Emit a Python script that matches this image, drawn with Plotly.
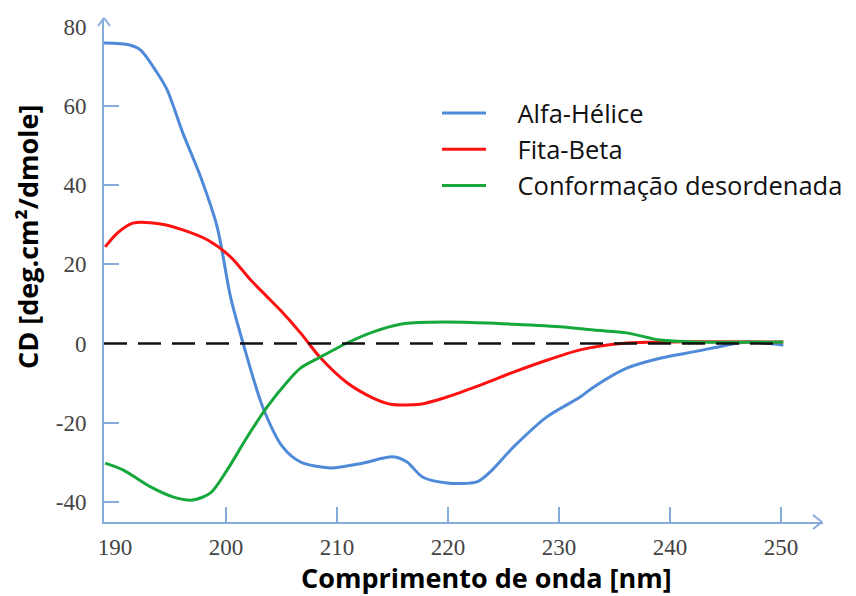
import plotly.graph_objects as go

# ---- data ----
alfa_x = [189.0, 191.3, 192.3, 193.8, 194.7, 196.1, 197.7, 199.2, 200.4, 201.5, 203.3, 205.1,
          206.7, 209.4, 212.3, 215.0, 216.3, 217.7, 219.9, 222.6, 223.8, 225.9, 228.9, 231.9,
          233.1, 236.1, 239.1, 242.1, 245.1, 246.9, 250.2]
alfa_y = [75.9, 75.4, 74.1, 68.3, 64.0, 53.2, 42.1, 29.4, 11.8, 0.4, -16.0, -26.1,
          -29.9, -31.4, -30.2, -28.6, -29.9, -33.7, -35.2, -34.9, -32.4, -26.1, -18.5, -13.5,
          -11.0, -6.2, -3.7, -2.1, -0.4, 0.4, -0.4]

beta_x = [189.1, 190.2, 191.6, 194.1, 196.1, 198.3, 200.4, 202.2, 203.7, 204.9, 206.7, 208.5,
          210.9, 213.2, 214.8, 217.5, 219.9, 222.9, 225.9, 228.9, 231.9, 233.7, 236.1, 239.1, 250.2]
beta_y = [24.4, 27.9, 30.4, 30.2, 28.7, 26.2, 21.9, 16.1, 11.8, 8.4, 2.7, -3.6,
          -9.9, -13.7, -15.3, -15.3, -13.5, -10.5, -7.2, -4.2, -1.6, -0.6, 0.15, 0.4, 0.4]

rc_x = [189.1, 190.7, 193.2, 195.2, 197.0, 198.6, 200.1, 201.9, 203.7, 205.5, 206.7, 208.5,
        210.9, 213.2, 215.7, 218.4, 221.4, 225.9, 230.4, 233.1, 236.1, 239.1, 242.1, 250.2]
rc_y = [-30.2, -31.9, -36.2, -38.7, -39.5, -37.7, -31.9, -23.6, -16.0, -9.7, -6.2, -3.4,
        0.15, 2.9, 4.9, 5.4, 5.4, 4.9, 4.2, 3.4, 2.7, 0.9, 0.4, 0.4]

zero_x = [189.0, 250.2]
zero_y = [0, 0]

names = ["Alfa-Hélice", "Fita-Beta", "Conformação desordenada"]
x_ticks = [190, 200, 210, 220, 230, 240, 250]
x_tick_marks = [200, 210, 220, 230, 240, 250]
y_ticks = [-40, -20, 0, 20, 40, 60, 80]
y_tick_text = ["-40", "-20", "0", "20", "40", "60", "80"]
y_tick_marks = [-40, -20, 20, 40, 60]

# ---- style ----
# the page body has an 8px default margin, so the figure is 8px smaller
OFF = 8
W, H = 856 - OFF, 596 - OFF
PL, PR, PT, PB = 104, 823, 18, 522          # plot area in window pixels
L, T = PL - OFF, PT - OFF
R, B = W - (PR - OFF), H - (PB - OFF)
PW, PH = PR - PL, PB - PT
AX = "#86acdc"
BLUE = "#4f8ad9"
RED = "#ff1111"
GREEN = "#17a83c"
PAD = "\u00a0" * 4


def px(xp, yp):
    return (xp - PL) / PW, (PB - yp) / PH


fig = go.Figure()
for xs, ys, nm, col in [(alfa_x, alfa_y, names[0], BLUE),
                        (beta_x, beta_y, names[1], RED),
                        (rc_x, rc_y, names[2], GREEN)]:
    fig.add_trace(go.Scatter(x=xs, y=ys, name=PAD + nm, mode="lines",
                             line=dict(color=col, width=3, shape="spline", smoothing=0.8)))

fig.add_trace(go.Scatter(x=zero_x, y=zero_y, mode="lines", showlegend=False,
                         line=dict(color="#111111", width=2.5, dash="23px,11px")))

tickfont = dict(family="Liberation Serif", size=23, color="#444444")
fig.update_xaxes(range=[189.0, 253.78], showline=True, linecolor=AX, linewidth=2,
                 tickvals=x_ticks, ticks="", tickfont=tickfont, ticklabelstandoff=3,
                 showgrid=False, zeroline=False, automargin=False,
                 minor=dict(tickvals=x_tick_marks, ticks="inside", ticklen=15,
                            tickwidth=2, tickcolor=AX, showgrid=False))
fig.update_yaxes(range=[-45.05, 82.2], showline=True, linecolor=AX, linewidth=2,
                 tickvals=y_ticks, ticktext=y_tick_text, ticks="", tickfont=tickfont,
                 ticklabelstandoff=11, showgrid=False, zeroline=False, automargin=False,
                 minor=dict(tickvals=y_tick_marks, ticks="inside", ticklen=15,
                            tickwidth=2, tickcolor=AX, showgrid=False))

shapes = []
for tip, a1, a2 in [((104, 18), (98, 26), (110, 26)),
                    ((822, 522), (813, 515), (813, 529))]:
    t = px(*tip)
    for a in (a1, a2):
        p = px(*a)
        shapes.append(dict(type="line", xref="paper", yref="paper",
                           x0=p[0], y0=p[1], x1=t[0], y1=t[1],
                           line=dict(color=AX, width=2)))

titlefont = dict(family="Open Sans", size=27, color="#000000")
ax_, ay_ = px(27, 237)
bx_, by_ = px(486, 577)
annotations = [
    dict(text="<b>CD [deg.cm²/dmole]</b>", xref="paper", yref="paper", x=ax_, y=ay_,
         textangle=-90, showarrow=False, font=titlefont, xanchor="center", yanchor="middle"),
    dict(text="<b>Comprimento de onda [nm]</b>", xref="paper", yref="paper", x=bx_, y=by_,
         showarrow=False, font=titlefont, xanchor="center", yanchor="middle", borderpad=0),
]

lx, ly = px(437, 90)
fig.update_layout(
    width=W, height=H, margin=dict(l=L, r=R, t=T, b=B, autoexpand=False),
    paper_bgcolor="white", plot_bgcolor="white",
    shapes=shapes, annotations=annotations,
    legend=dict(x=lx, y=ly, xanchor="left", yanchor="top", bgcolor="rgba(0,0,0,0)",
                font=dict(family="Open Sans", size=25.5, color="#111111"),
                itemwidth=44),
)

fig.write_html("out.html")
